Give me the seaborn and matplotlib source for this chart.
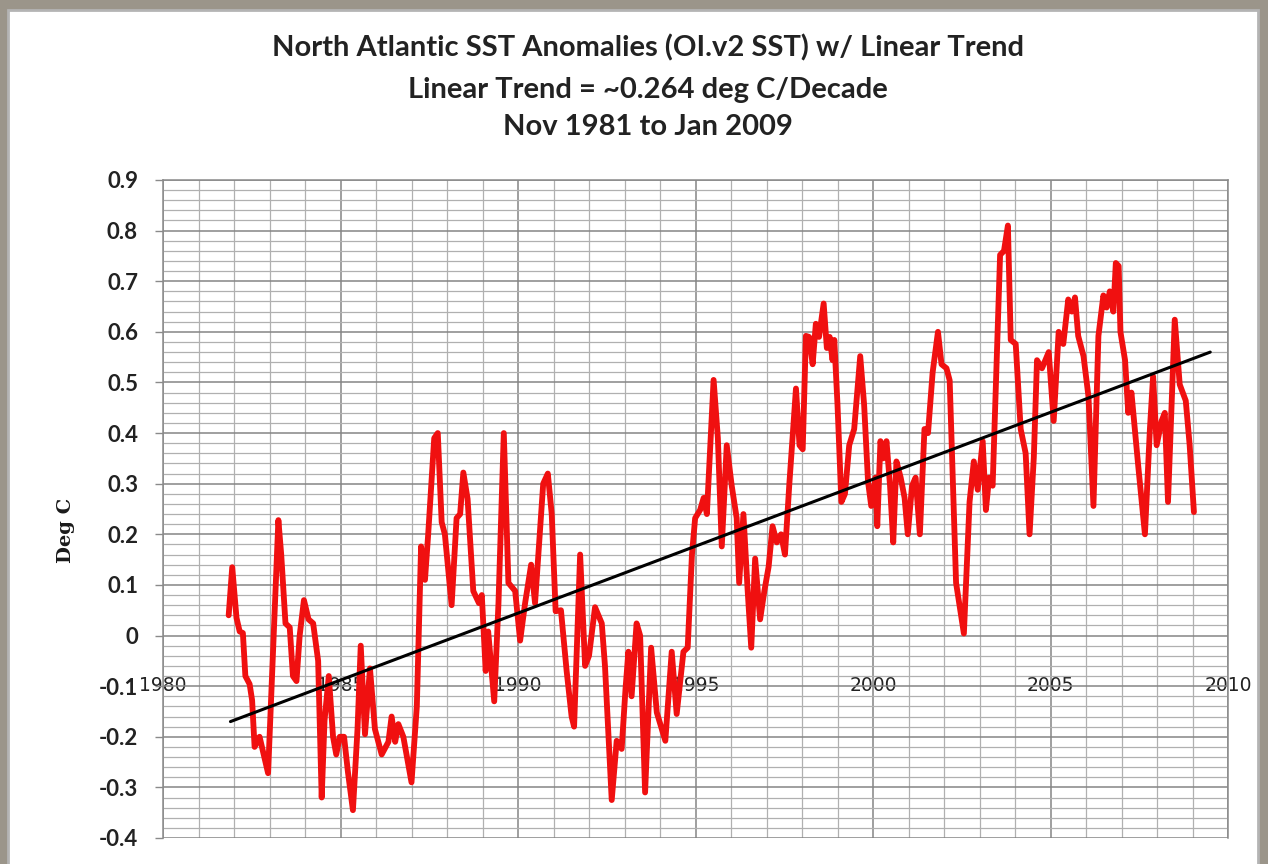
import numpy as np
import pandas as pd
import seaborn as sns
import matplotlib.pyplot as plt
from matplotlib.patches import Rectangle
from matplotlib.ticker import MultipleLocator

# North Atlantic SST anomalies (OI.v2), Nov 1981 - Jan 2009
years = [
    1981.85, 1981.95, 1982.07, 1982.16, 1982.25, 1982.32, 1982.44, 1982.51, 1982.58, 1982.72,
    1982.96, 1983.10, 1983.25, 1983.33, 1983.45, 1983.57, 1983.66, 1983.76, 1983.85, 1983.97,
    1984.10, 1984.23, 1984.37, 1984.47, 1984.55, 1984.67, 1984.79, 1984.88, 1984.98, 1985.10,
    1985.21, 1985.35, 1985.48, 1985.57, 1985.69, 1985.83, 1985.97, 1986.16, 1986.35, 1986.44,
    1986.54, 1986.63, 1986.77, 1987.00, 1987.15, 1987.27, 1987.38, 1987.47, 1987.64, 1987.74,
    1987.85, 1987.94, 1988.13, 1988.27, 1988.37, 1988.46, 1988.58, 1988.74, 1988.90, 1988.98,
    1989.09, 1989.16, 1989.33, 1989.45, 1989.60, 1989.73, 1989.92, 1990.06, 1990.20, 1990.37,
    1990.48, 1990.71, 1990.84, 1990.95, 1991.06, 1991.21, 1991.37, 1991.51, 1991.58, 1991.75,
    1991.89, 1992.00, 1992.17, 1992.36, 1992.45, 1992.64, 1992.78, 1992.92, 1993.03, 1993.11,
    1993.20, 1993.34, 1993.44, 1993.58, 1993.75, 1993.91, 1994.15, 1994.33, 1994.47, 1994.66,
    1994.78, 1994.90, 1994.99, 1995.13, 1995.23, 1995.32, 1995.51, 1995.63, 1995.74, 1995.88,
    1996.02, 1996.16, 1996.23, 1996.35, 1996.47, 1996.57, 1996.68, 1996.82, 1996.94, 1997.06,
    1997.17, 1997.29, 1997.41, 1997.52, 1997.64, 1997.83, 1997.93, 1998.02, 1998.11, 1998.20,
    1998.30, 1998.39, 1998.48, 1998.61, 1998.70, 1998.78, 1998.86, 1998.91, 1999.00, 1999.11,
    1999.21, 1999.33, 1999.47, 1999.64, 1999.75, 1999.86, 1999.95, 2000.07, 2000.12, 2000.21,
    2000.29, 2000.38, 2000.48, 2000.57, 2000.66, 2000.78, 2000.89, 2000.98, 2001.10, 2001.20,
    2001.32, 2001.45, 2001.55, 2001.68, 2001.83, 2001.93, 2002.07, 2002.16, 2002.34, 2002.56,
    2002.72, 2002.84, 2002.95, 2003.09, 2003.18, 2003.27, 2003.37, 2003.58, 2003.69, 2003.80,
    2003.88, 2004.02, 2004.16, 2004.30, 2004.41, 2004.53, 2004.62, 2004.76, 2004.95, 2005.09,
    2005.23, 2005.36, 2005.50, 2005.60, 2005.69, 2005.78, 2005.93, 2006.07, 2006.21, 2006.35,
    2006.49, 2006.58, 2006.67, 2006.77, 2006.84, 2006.92, 2006.97, 2007.10, 2007.19, 2007.28,
    2007.47, 2007.66, 2007.80, 2007.89, 2007.99, 2008.13, 2008.22, 2008.31, 2008.50, 2008.64,
    2008.81, 2008.92, 2009.04,
]
anomaly = [
    0.040, 0.135, 0.035, 0.008, 0.005, -0.080, -0.096, -0.128, -0.220, -0.200,
    -0.272, -0.030, 0.228, 0.160, 0.024, 0.016, -0.080, -0.090, 0.000, 0.070,
    0.032, 0.024, -0.050, -0.320, -0.168, -0.080, -0.200, -0.235, -0.200, -0.200,
    -0.270, -0.345, -0.184, -0.020, -0.195, -0.065, -0.185, -0.235, -0.210, -0.160,
    -0.210, -0.175, -0.200, -0.290, -0.140, 0.176, 0.110, 0.200, 0.390, 0.400,
    0.224, 0.200, 0.060, 0.232, 0.240, 0.322, 0.270, 0.088, 0.064, 0.080,
    -0.070, 0.008, -0.130, 0.064, 0.400, 0.104, 0.088, -0.010, 0.064, 0.140,
    0.064, 0.300, 0.320, 0.240, 0.048, 0.050, -0.070, -0.160, -0.180, 0.160,
    -0.060, -0.040, 0.056, 0.024, -0.060, -0.325, -0.208, -0.224, -0.104, -0.032,
    -0.120, 0.024, 0.000, -0.310, -0.024, -0.152, -0.208, -0.032, -0.155, -0.032,
    -0.024, 0.160, 0.232, 0.248, 0.272, 0.240, 0.505, 0.390, 0.176, 0.376,
    0.296, 0.232, 0.104, 0.240, 0.088, -0.024, 0.152, 0.032, 0.088, 0.136,
    0.216, 0.184, 0.200, 0.160, 0.296, 0.488, 0.376, 0.368, 0.592, 0.590,
    0.536, 0.616, 0.590, 0.656, 0.568, 0.590, 0.544, 0.584, 0.456, 0.264,
    0.280, 0.376, 0.408, 0.552, 0.456, 0.304, 0.256, 0.312, 0.216, 0.384,
    0.350, 0.384, 0.296, 0.184, 0.344, 0.312, 0.272, 0.200, 0.296, 0.312,
    0.200, 0.408, 0.400, 0.520, 0.600, 0.536, 0.528, 0.504, 0.104, 0.004,
    0.264, 0.344, 0.288, 0.384, 0.248, 0.312, 0.296, 0.752, 0.760, 0.810,
    0.584, 0.576, 0.408, 0.360, 0.200, 0.352, 0.544, 0.528, 0.560, 0.424,
    0.600, 0.576, 0.664, 0.640, 0.668, 0.592, 0.552, 0.472, 0.256, 0.592,
    0.672, 0.648, 0.680, 0.640, 0.736, 0.730, 0.600, 0.544, 0.440, 0.480,
    0.336, 0.200, 0.408, 0.512, 0.376, 0.424, 0.440, 0.264, 0.624, 0.496,
    0.464, 0.376, 0.244,
]

# linear trend line end points (~0.264 deg C / decade)
trend_years = [1981.9, 2009.5]
trend_values = [-0.17, 0.56]

x_ticks = [1980, 1985, 1990, 1995, 2000, 2005, 2010]
y_ticks = [0.9, 0.8, 0.7, 0.6, 0.5, 0.4, 0.3, 0.2, 0.1, 0, -0.1, -0.2, -0.3, -0.4]
y_tick_labels = ['0.9', '0.8', '0.7', '0.6', '0.5', '0.4', '0.3', '0.2', '0.1', '0',
                 '-0.1', '-0.2', '-0.3', '-0.4']

title_lines = [
    'North Atlantic SST Anomalies (OI.v2 SST) w/ Linear Trend',
    'Linear Trend = ~0.264 deg C/Decade',
    'Nov 1981 to Jan 2009',
]

sns.set_style('white')
plt.rcParams['font.family'] = ['Lato', 'DejaVu Sans']

fig = plt.figure(figsize=(12.68, 8.64), dpi=100)
fig.patch.set_facecolor('#9b958a')

# white chart panel sitting on the textured background
panel = Rectangle((8 / 1268, -0.02), 1250 / 1268, 1 - 10 / 864 + 0.02,
                  transform=fig.transFigure, facecolor='white',
                  edgecolor='#b4b4b4', linewidth=2, zorder=-10)
fig.patches.append(panel)

ax = fig.add_axes([163 / 1268, 26 / 864, 1065 / 1268, 658 / 864])
ax.set_facecolor('white')

df = pd.DataFrame({'year': years, 'anomaly': anomaly})
trend = pd.DataFrame({'year': trend_years, 'anomaly': trend_values})

sns.lineplot(data=df, x='year', y='anomaly', color='#f01010', lw=4.2,
             solid_joinstyle='round', ax=ax, zorder=3)
sns.lineplot(data=trend, x='year', y='anomaly', color='black', lw=2.2, ax=ax, zorder=4)

ax.set_xlim(1980, 2010)
ax.set_ylim(-0.4, 0.9)

# Excel-style gridlines: major every 5 yrs / 0.1, minor every yr / 0.02
ax.xaxis.set_major_locator(MultipleLocator(5))
ax.xaxis.set_minor_locator(MultipleLocator(1))
ax.yaxis.set_minor_locator(MultipleLocator(0.02))
ax.set_xticks(x_ticks)
ax.set_yticks(y_ticks)
ax.set_yticklabels(y_tick_labels)
ax.grid(which='major', color='#858585', linewidth=1.1)
ax.grid(which='minor', color='#b0b0b0', linewidth=0.9)
ax.set_axisbelow(True)

for side in ['top', 'right', 'left']:
    ax.spines[side].set_color('#8a8a8a')
    ax.spines[side].set_linewidth(1.1)
# x axis crosses at 0, labels hang just below it
ax.spines['bottom'].set_position(('data', 0))
ax.spines['bottom'].set_color('none')

ax.tick_params(axis='x', which='both', length=0, pad=29, labelsize=13.5, labelcolor='#222222')
ax.tick_params(axis='y', which='major', left=True, length=6, width=1, color='#8a8a8a', pad=12,
               labelsize=16, labelcolor='#222222')
ax.tick_params(axis='y', which='minor', length=0)
for lab in ax.get_xticklabels():
    lab.set_family('DejaVu Sans')
for lab in ax.get_yticklabels():
    lab.set_fontweight('bold')

ax.set_xlabel('')
ax.set_ylabel('Deg C', family='DejaVu Serif', fontweight='bold', fontsize=14,
              color='#1a1a1a')
ax.yaxis.set_label_coords(-0.083, 0.468)

for txt, ypix in zip(title_lines, [48, 90, 127]):
    fig.text(648 / 1268, 1 - ypix / 864, txt, ha='center', va='center',
             fontsize=21, fontweight='bold', color='#222222')

fig.savefig('out.png', dpi=100, facecolor=fig.get_facecolor())
